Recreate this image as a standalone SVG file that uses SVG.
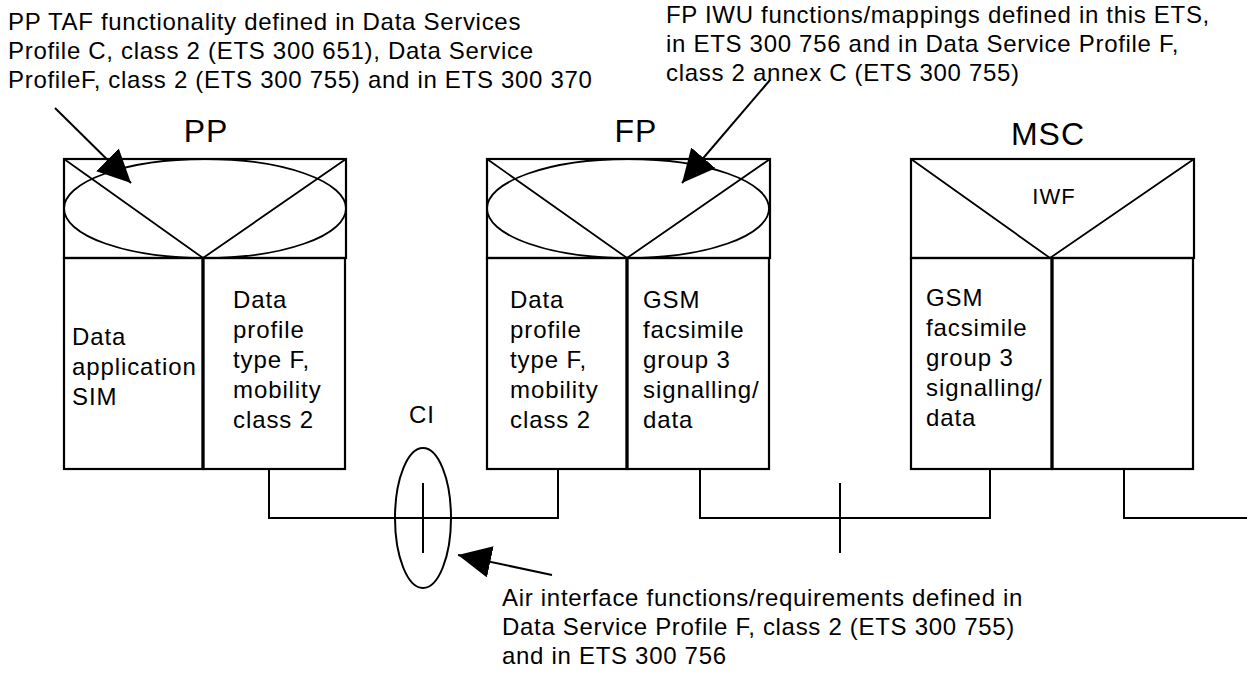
<svg xmlns="http://www.w3.org/2000/svg" width="1247" height="673" viewBox="0 0 1247 673">
<style>
text{font-family:"Liberation Sans",Arial,sans-serif;fill:#000}
.t{font-size:24px;letter-spacing:0.7px}
.b{font-size:24px;letter-spacing:0.9px}
.lbl{font-size:32px;text-anchor:middle;letter-spacing:1px}
.iwf{font-size:22px;text-anchor:middle;letter-spacing:1px}
.box{fill:none;stroke:#000;stroke-width:2.2}
.div{fill:none;stroke:#000;stroke-width:3.2}
.thin{fill:none;stroke:#000;stroke-width:1.8}
.ln{fill:none;stroke:#000;stroke-width:2}
</style>
<defs>
<marker id="ah" markerUnits="userSpaceOnUse" markerWidth="34" markerHeight="34" refX="33" refY="16" orient="auto" viewBox="0 0 34 34">
<path d="M0,0 L33,16 L0,32 Z" fill="#000"/>
</marker>
</defs>

<g id="annot-pp">
<text class="t" x="8" y="30">PP TAF functionality defined in Data Services</text>
<text class="t" x="8" y="59">Profile C, class 2 (ETS 300 651), Data Service</text>
<text class="t" x="8" y="88">ProfileF, class 2 (ETS 300 755) and in ETS 300 370</text>
</g>
<g id="annot-fp">
<text class="t" x="666" y="23">FP IWU functions/mappings defined in this ETS,</text>
<text class="t" x="666" y="52">in ETS 300 756 and in Data Service Profile F,</text>
<text class="t" x="666" y="81">class 2 annex C (ETS 300 755)</text>
</g>
<g id="annot-air">
<text class="t" x="502" y="606">Air interface functions/requirements defined in</text>
<text class="t" x="502" y="635">Data Service Profile F, class 2 (ETS 300 755)</text>
<text class="t" x="502" y="664">and in ETS 300 756</text>
</g>

<g id="node-pp">
<text class="lbl" x="206" y="142">PP</text>
<rect class="box" x="64" y="159" width="282" height="99"/>
<path class="thin" d="M64,159 L203,258 L346,159"/>
<ellipse class="thin" cx="205" cy="208.5" rx="141" ry="49.5"/>
<rect class="box" x="64" y="258" width="139" height="211"/>
<rect class="box" x="203" y="258" width="142" height="211"/>
<line class="div" x1="203" y1="258" x2="203" y2="469"/>
<text class="b"><tspan x="72" y="345">Data</tspan><tspan x="72" y="375">application</tspan><tspan x="72" y="405">SIM</tspan></text>
<text class="b"><tspan x="233" y="308">Data</tspan><tspan x="233" y="338">profile</tspan><tspan x="233" y="368">type F,</tspan><tspan x="233" y="398">mobility</tspan><tspan x="233" y="428">class 2</tspan></text>
</g>

<g id="node-fp">
<text class="lbl" x="636" y="142">FP</text>
<rect class="box" x="487" y="159" width="283" height="99"/>
<path class="thin" d="M487,159 L627,258 L770,159"/>
<ellipse class="thin" cx="628" cy="208.5" rx="141" ry="49.5"/>
<rect class="box" x="487" y="258" width="140" height="211"/>
<rect class="box" x="627" y="258" width="142" height="211"/>
<line class="div" x1="627" y1="258" x2="627" y2="469"/>
<text class="b"><tspan x="510" y="308">Data</tspan><tspan x="510" y="338">profile</tspan><tspan x="510" y="368">type F,</tspan><tspan x="510" y="398">mobility</tspan><tspan x="510" y="428">class 2</tspan></text>
<text class="b"><tspan x="643" y="308">GSM</tspan><tspan x="643" y="338">facsimile</tspan><tspan x="643" y="368">group 3</tspan><tspan x="643" y="398">signalling/</tspan><tspan x="643" y="428">data</tspan></text>
</g>

<g id="node-msc">
<text class="lbl" x="1048" y="145">MSC</text>
<rect class="box" x="911" y="159" width="283" height="99"/>
<path class="thin" d="M911,159 L1050,258 L1194,159"/>
<text class="iwf" x="1054" y="204">IWF</text>
<rect class="box" x="911" y="258" width="141" height="211"/>
<rect class="box" x="1052" y="258" width="141" height="211"/>
<line class="div" x1="1052" y1="258" x2="1052" y2="469"/>
<text class="b"><tspan x="926" y="306">GSM</tspan><tspan x="926" y="336">facsimile</tspan><tspan x="926" y="366">group 3</tspan><tspan x="926" y="396">signalling/</tspan><tspan x="926" y="426">data</tspan></text>
</g>

<g id="node-ci">
<text class="b" x="422" y="423" text-anchor="middle">CI</text>
<ellipse class="ln" cx="423" cy="518" rx="28" ry="70"/>
<line class="ln" x1="423" y1="483" x2="423" y2="553"/>
</g>

<g id="connectors">
<path class="ln" d="M269,469 V518 H558 V469"/>
<path class="ln" d="M700,469 V518 H990 V469"/>
<path class="ln" d="M1124,469 V518 H1247"/>
<line class="ln" x1="840" y1="483" x2="840" y2="553"/>
<line class="ln" x1="55" y1="108" x2="131" y2="183" marker-end="url(#ah)"/>
<line class="ln" x1="770" y1="80" x2="682" y2="183" marker-end="url(#ah)"/>
<line class="ln" x1="552" y1="575" x2="458" y2="555" marker-end="url(#ah)"/>
</g>
</svg>
